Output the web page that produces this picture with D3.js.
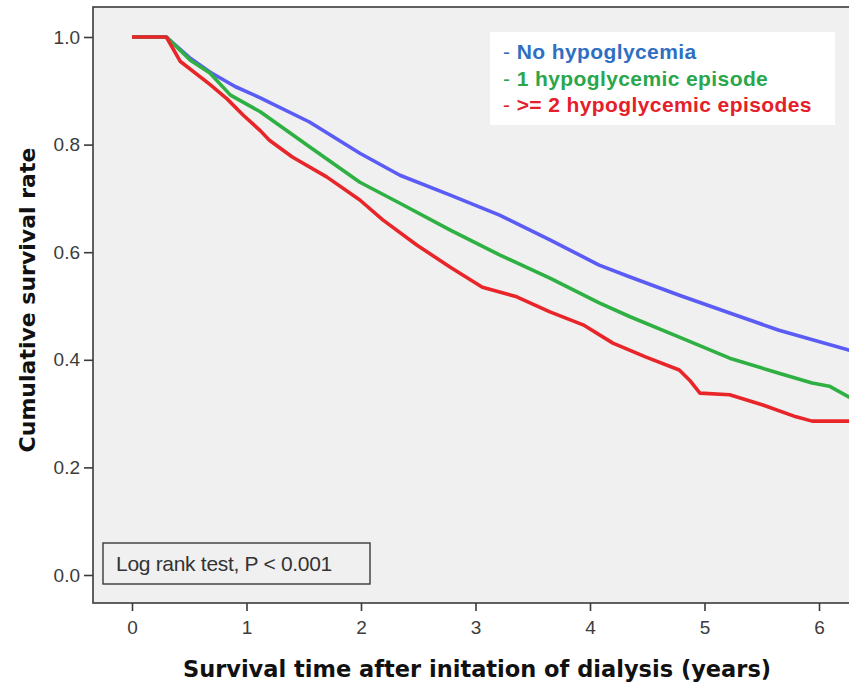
<!DOCTYPE html>
<html>
<head>
<meta charset="utf-8">
<script src="https://cdn.jsdelivr.net/npm/d3@7"></script>
<style>
  body { margin: 0; background: #fff; }
  svg { display: block; }
</style>
</head>
<body>
<div id="chart"></div>
<script>
// survival curves (years, cumulative survival)
const noHypoYears = [0, 0.3, 0.5, 0.68, 0.9, 1.12, 1.55, 1.99, 2.34, 2.78, 3.21, 3.65, 4.08, 4.35, 4.78, 5.22, 5.65, 6.26, 6.4];
const noHypoSurv  = [1.0, 1.0, 0.962, 0.935, 0.908, 0.887, 0.842, 0.784, 0.743, 0.706, 0.669, 0.623, 0.576, 0.554, 0.520, 0.487, 0.455, 0.418, 0.41];

const oneEpiYears = [0, 0.3, 0.51, 0.68, 0.86, 1.12, 1.55, 1.99, 2.34, 2.78, 3.21, 3.65, 4.08, 4.35, 4.78, 5.22, 5.65, 5.94, 6.09, 6.26, 6.4];
const oneEpiSurv  = [1.0, 1.0, 0.957, 0.933, 0.892, 0.861, 0.796, 0.730, 0.691, 0.641, 0.595, 0.552, 0.506, 0.480, 0.442, 0.403, 0.375, 0.357, 0.351, 0.331, 0.32];

const twoEpiYears = [0, 0.3, 0.42, 0.68, 0.83, 0.97, 1.12, 1.2, 1.4, 1.7, 1.99, 2.19, 2.49, 2.78, 3.06, 3.36, 3.65, 3.94, 4.2, 4.49, 4.78, 4.87, 4.96, 5.22, 5.51, 5.8, 5.94, 6.4];
const twoEpiSurv  = [1.0, 1.0, 0.955, 0.912, 0.885, 0.855, 0.826, 0.808, 0.777, 0.740, 0.697, 0.660, 0.613, 0.572, 0.535, 0.517, 0.489, 0.465, 0.431, 0.405, 0.381, 0.362, 0.338, 0.335, 0.316, 0.294, 0.286, 0.286];

const seriesNames  = ["No hypoglycemia", "1 hypoglycemic episode", ">= 2 hypoglycemic episodes"];
const lineColors   = ["#5a5cf5", "#2fb043", "#e8262a"];
const legendColors = ["#2f6fc2", "#2aa64c", "#e5202a"];
const xTicks = [0, 1, 2, 3, 4, 5, 6];
const yTicks = [0.0, 0.2, 0.4, 0.6, 0.8, 1.0];

const W = 849, H = 688;
const svg = d3.select("#chart").append("svg")
  .attr("width", W)
  .attr("height", H);

const frame = { left: 93, top: 7, right: 870, bottom: 603 };

const x = d3.scaleLinear().domain([0, 6]).range([132, 819]);
const y = d3.scaleLinear().domain([0, 1]).range([575, 37]);

// plot background + frame
svg.append("rect")
  .attr("x", frame.left).attr("y", frame.top)
  .attr("width", frame.right - frame.left)
  .attr("height", frame.bottom - frame.top)
  .attr("fill", "#f0f0f0")
  .attr("stroke", "#3a3a3a")
  .attr("stroke-width", 1.6);

// axes
const yAxis = d3.axisLeft(y).tickValues(yTicks).tickFormat(d3.format(".1f")).tickSize(9).tickPadding(4);
const xAxis = d3.axisBottom(x).tickValues(xTicks).tickFormat(d3.format("d")).tickSize(8).tickPadding(10);

const gy = svg.append("g").attr("transform", `translate(${frame.left},0)`).call(yAxis);
const gx = svg.append("g").attr("transform", `translate(0,${frame.bottom})`).call(xAxis);

[gx, gy].forEach(g => {
  g.select(".domain").remove();
  g.selectAll(".tick line").attr("stroke", "#3a3a3a").attr("stroke-width", 1.6);
  g.selectAll(".tick text")
    .attr("fill", "#3c3c3c")
    .style("font-family", "'Liberation Sans', Arial, sans-serif")
    .style("font-size", "19px");
});

// curves
const series = [
  { years: noHypoYears, surv: noHypoSurv },
  { years: oneEpiYears, surv: oneEpiSurv },
  { years: twoEpiYears, surv: twoEpiSurv }
];

svg.append("clipPath").attr("id", "clip")
  .append("rect")
  .attr("x", frame.left).attr("y", frame.top)
  .attr("width", frame.right - frame.left)
  .attr("height", frame.bottom - frame.top);

const line = d3.line()
  .x(d => x(d[0]))
  .y(d => y(d[1]));

svg.append("g").attr("clip-path", "url(#clip)")
  .selectAll("path")
  .data(series)
  .enter()
  .append("path")
  .attr("d", s => line(s.years.map((t, i) => [t, s.surv[i]])))
  .attr("fill", "none")
  .attr("stroke", (s, i) => lineColors[i])
  .attr("stroke-width", 3.6)
  .attr("stroke-linejoin", "round");

// legend
svg.append("rect")
  .attr("x", 490).attr("y", 32)
  .attr("width", 345).attr("height", 93)
  .attr("fill", "#ffffff");

const legend = svg.append("g")
  .style("font-family", "'Liberation Sans', Arial, sans-serif")
  .style("font-size", "21px")
  .style("letter-spacing", "0.4px")
  .style("font-weight", "bold");

seriesNames.forEach((name, i) => {
  const t = legend.append("text")
    .attr("x", 503)
    .attr("y", 59 + i * 26.5)
    .attr("fill", legendColors[i]);
  t.append("tspan").attr("font-weight", "normal").text("- ");
  t.append("tspan").text(name);
});

// log rank box
svg.append("rect")
  .attr("x", 103).attr("y", 543)
  .attr("width", 267).attr("height", 41)
  .attr("fill", "#f0f0f0")
  .attr("stroke", "#3a3a3a")
  .attr("stroke-width", 1.4);

svg.append("text")
  .attr("x", 116).attr("y", 571)
  .attr("fill", "#333")
  .style("font-family", "'Liberation Sans', Arial, sans-serif")
  .style("font-size", "21px")
  .style("letter-spacing", "-0.3px")
  .text("Log rank test, P < 0.001");

// axis titles
svg.append("text")
  .attr("x", 477).attr("y", 677)
  .attr("text-anchor", "middle")
  .attr("fill", "#111")
  .style("font-family", "'DejaVu Sans', Verdana, sans-serif")
  .style("font-weight", "bold")
  .style("font-size", "22.5px")
  .text("Survival time after initation of dialysis (years)");

svg.append("text")
  .attr("transform", "translate(35,300) rotate(-90)")
  .attr("text-anchor", "middle")
  .attr("fill", "#111")
  .style("font-family", "'DejaVu Sans', Verdana, sans-serif")
  .style("font-weight", "bold")
  .style("font-size", "22px")
  .text("Cumulative survival rate");
</script>
</body>
</html>
